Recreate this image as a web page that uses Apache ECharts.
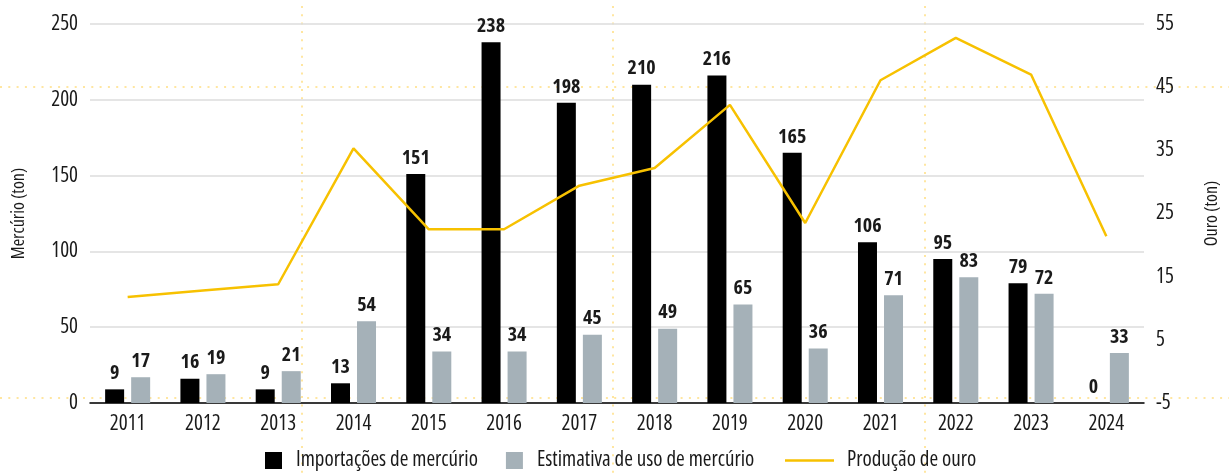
<!DOCTYPE html>
<html>
<head>
<meta charset="utf-8">
<script src="https://cdn.jsdelivr.net/npm/echarts@6/dist/echarts.min.js"></script>
<style>
html,body{margin:0;padding:0;background:#fff;}
#c{width:1229px;height:476px;}
</style>
</head>
<body>
<div id="c"></div>
<script>
const years = ['2011','2012','2013','2014','2015','2016','2017','2018','2019','2020','2021','2022','2023','2024'];
const importacoes = [9,16,9,13,151,238,198,210,216,165,106,95,79,0];
const estimativaUso = [17,19,21,54,34,34,45,49,65,36,71,83,72,33];
const producaoOuro = [11.8,12.8,13.8,35.3,22.5,22.5,29.4,32.2,42.2,23.5,46.1,52.8,47.0,21.4];
const leftTicks = {min:0,max:250,interval:50};
const rightTicks = {min:-5,max:55,interval:10};

const FONT = '"Open Sans","Roboto Condensed",sans-serif';
const FS = 'condensed';
const TXT = '#1a1a1a';

const chart = echarts.init(document.getElementById('c'), null, {renderer:'canvas'});

function dotted(x1,y1,x2,y2){
  return {type:'line', z:-1, silent:true,
    shape:{x1:x1,y1:y1,x2:x2,y2:y2},
    style:{stroke:'#ffe6a0', lineWidth:2, lineDash:[2,6.3]}};
}
function ts(size, weight){
  return {color:TXT,fontSize:size,fontFamily:FONT,fontStyle:FS,fontWeight:weight||'normal'};
}

chart.setOption({
  animation:false,
  textStyle:{fontFamily:FONT,fontStyle:FS},
  grid:{left:90,right:78,top:24,bottom:73,containLabel:false},
  graphic:[
    dotted(0,87,1229,87),
    dotted(0,398,1229,398),
    dotted(302,6,302,476),
    dotted(613,6,613,476),
    dotted(925,6,925,476)
  ],
  legend:[{
    left:265, top:450, padding:0, itemWidth:17, itemHeight:17, itemGap:28,
    icon:'rect',
    textStyle:Object.assign(ts(21),{padding:[0,0,0,9]}),
    data:['Importações de mercúrio','Estimativa de uso de mercúrio']
  },{
    left:785, top:450, padding:0, itemWidth:49, itemHeight:2.5,
    icon:'rect',
    textStyle:Object.assign(ts(21),{padding:[0,0,0,8]}),
    data:['Produção de ouro']
  }],
  xAxis:{
    type:'category', data:years,
    axisLine:{lineStyle:{color:'#000',width:1.5}},
    axisTick:{show:false},
    axisLabel:Object.assign(ts(21),{margin:11})
  },
  yAxis:[{
    type:'value', min:leftTicks.min, max:leftTicks.max, interval:leftTicks.interval,
    name:'Mercúrio (ton)', nameLocation:'middle', nameRotate:90, nameGap:62,
    nameTextStyle:ts(18),
    axisLine:{show:false}, axisTick:{show:false},
    axisLabel:Object.assign(ts(21),{margin:12}),
    splitLine:{lineStyle:{color:'#dcdcdc',width:1.5}}
  },{
    type:'value', min:rightTicks.min, max:rightTicks.max, interval:rightTicks.interval,
    name:'Ouro (ton)', nameLocation:'middle', nameRotate:90, nameGap:59,
    nameTextStyle:ts(18),
    axisLine:{show:false}, axisTick:{show:false},
    axisLabel:Object.assign(ts(21),{margin:12,align:'left'}),
    splitLine:{show:false}
  }],
  series:[{
    name:'Importações de mercúrio', type:'bar', yAxisIndex:0,
    data:importacoes, barWidth:19, barGap:'37%',
    itemStyle:{color:'#000000'},
    label:Object.assign(ts(20,'bold'),{show:true,position:'top',distance:6})
  },{
    name:'Estimativa de uso de mercúrio', type:'bar', yAxisIndex:0,
    data:estimativaUso, barWidth:19,
    itemStyle:{color:'#a5b1b8'},
    label:Object.assign(ts(20,'bold'),{show:true,position:'top',distance:6})
  },{
    name:'Produção de ouro', type:'line', yAxisIndex:1,
    data:producaoOuro, symbol:'none', z:3,
    lineStyle:{color:'#f7c100',width:2.5},
    itemStyle:{color:'#f7c100'}
  }]
});
</script>
</body>
</html>
